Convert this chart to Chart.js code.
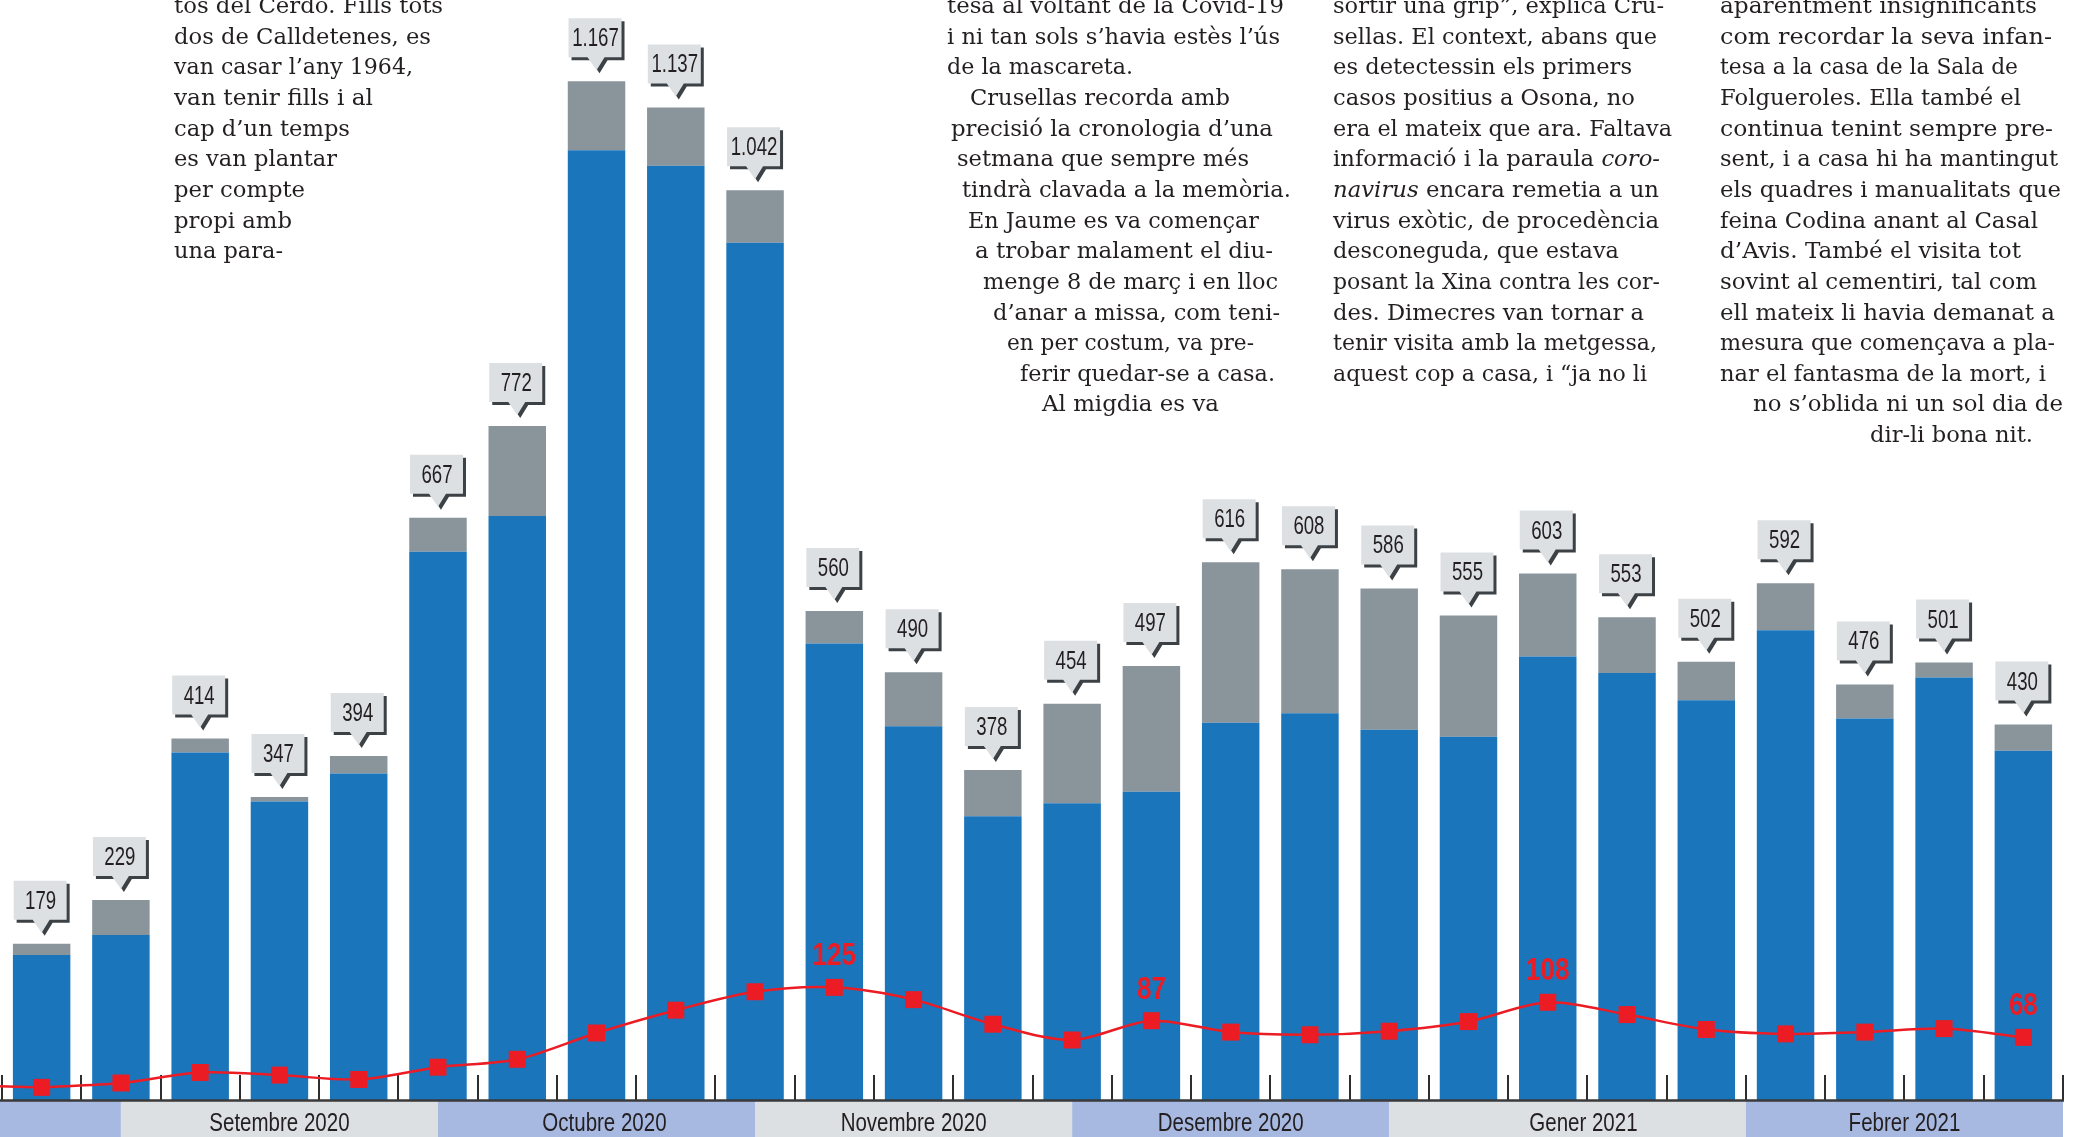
<!DOCTYPE html>
<html>
<head>
<meta charset="utf-8">
<script src="https://cdn.jsdelivr.net/npm/chart.js@4.4.1/dist/chart.umd.min.js"></script>
<style>
  html, body { margin:0; padding:0; background:#fff; overflow:hidden; }
  #wrap { position:relative; width:2074px; height:1137px; }
  #c { position:absolute; left:0; top:0; }
  .tl { position:absolute; white-space:pre; font-family:'DejaVu Serif', 'Liberation Serif', serif;
        font-size:21.5px; line-height:30px; color:#231f20; transform-origin:0 0; }
</style>
</head>
<body>
<div id="wrap"><canvas id="c" width="2074" height="1137"></canvas></div>
<script>
// ---------- DATA ----------
const weeks = ['S1','S2','S3','S4','S5','S6','S7','S8','S9','S10','S11','S12','S13',
               'S14','S15','S16','S17','S18','S19','S20','S21','S22','S23','S24','S25','S26'];
const blueValues = [166,189,398,342,374,628,669,1088,1070,982,523,428,325,340,353,432,443,424,416,508,489,458,538,437,484,400];
const grayValues = [13,40,16,5,20,39,103,79,67,60,37,62,53,114,144,184,165,162,139,95,64,44,54,39,17,30];
const totalLabels = ['179','229','414','347','394','667','772','1.167','1.137','1.042','560','490','378',
                     '454','497','616','608','586','555','603','553','502','592','476','501','430'];
const lineValues = [11,16,28,25,20,34,43,73,99,120,125,111,83,65,87,74,71,75,86,108,94,77,72,74,78,68];
const lineLabelAt = [10,14,19,25];
const monthNames = ['', 'Setembre 2020', 'Octubre 2020', 'Novembre 2020', 'Desembre 2020', 'Gener 2021', 'Febrer 2021'];
const monthBounds = [-0.5, 1, 5, 9, 13, 17, 21.5, 25.5];
const monthLabelPos = [null, 3, 7.1, 11, 15, 19.45, 23.5];

// ---------- BODY TEXT (newspaper columns) ----------
const textLines = [
  [174, 443, 0, 'tos del Cerdo. Fills tots'],
  [174, 431, 1, 'dos de Calldetenes, es'],
  [174, 413, 2, 'van casar l’any 1964,'],
  [174, 373, 3, 'van tenir fills i al'],
  [174, 350, 4, 'cap d’un temps'],
  [174, 337, 5, 'es van plantar'],
  [174, 305, 6, 'per compte'],
  [174, 292, 7, 'propi amb'],
  [174, 283, 8, 'una para-'],

  [947, 1284, 0, 'tesa al voltant de la Covid-19'],
  [947, 1280, 1, 'i ni tan sols s’havia estès l’ús'],
  [947, 1133, 2, 'de la mascareta.'],
  [970, 1230, 3, 'Crusellas recorda amb'],
  [951, 1273, 4, 'precisió la cronologia d’una'],
  [957, 1249, 5, 'setmana que sempre més'],
  [962, 1291, 6, 'tindrà clavada a la memòria.'],
  [968, 1259, 7, 'En Jaume es va començar'],
  [975, 1273, 8, 'a trobar malament el diu-'],
  [983, 1278, 9, 'menge 8 de març i en lloc'],
  [993, 1280, 10, 'd’anar a missa, com teni-'],
  [1007, 1254, 11, 'en per costum, va pre-'],
  [1020, 1275, 12, 'ferir quedar-se a casa.'],
  [1042, 1219, 13, 'Al migdia es va'],

  [1333, 1664, 0, 'sortir una grip”, explica Cru-'],
  [1333, 1657, 1, 'sellas. El context, abans que'],
  [1333, 1632, 2, 'es detectessin els primers'],
  [1333, 1635, 3, 'casos positius a Osona, no'],
  [1333, 1672, 4, 'era el mateix que ara. Faltava'],
  [1333, 1660, 5, 'informació i la paraula <i>coro-</i>'],
  [1333, 1659, 6, '<i>navirus</i> encara remetia a un'],
  [1333, 1659, 7, 'virus exòtic, de procedència'],
  [1333, 1619, 8, 'desconeguda, que estava'],
  [1333, 1660, 9, 'posant la Xina contra les cor-'],
  [1333, 1644, 10, 'des. Dimecres van tornar a'],
  [1333, 1657, 11, 'tenir visita amb la metgessa,'],
  [1333, 1647, 12, 'aquest cop a casa, i “ja no li'],

  [1720, 2037, 0, 'aparentment insignificants'],
  [1720, 2052, 1, 'com recordar la seva infan-'],
  [1720, 2018, 2, 'tesa a la casa de la Sala de'],
  [1720, 2021, 3, 'Folgueroles. Ella també el'],
  [1720, 2053, 4, 'continua tenint sempre pre-'],
  [1720, 2058, 5, 'sent, i a casa hi ha mantingut'],
  [1720, 2061, 6, 'els quadres i manualitats que'],
  [1720, 2038, 7, 'feina Codina anant al Casal'],
  [1720, 2021, 8, 'd’Avis. També el visita tot'],
  [1720, 2037, 9, 'sovint al cementiri, tal com'],
  [1720, 2055, 10, 'ell mateix li havia demanat a'],
  [1720, 2055, 11, 'mesura que començava a pla-'],
  [1720, 2046, 12, 'nar el fantasma de la mort, i'],
  [1753, 2063, 13, 'no s’oblida ni un sol dia de'],
  [1870, 2033, 14, 'dir-li bona nit.']
];
const BASE0 = 13, LINE_STEP = 30.65;
const wrap = document.getElementById('wrap');
textLines.forEach(([l, r, row, html]) => {
  const d = document.createElement('div');
  d.className = 'tl';
  d.innerHTML = html + '<span class="bm" style="display:inline-block;width:0;height:0;vertical-align:baseline"></span>';
  d.style.left = l + 'px';
  d.style.top = '0px';
  wrap.appendChild(d);
  const dr = d.getBoundingClientRect();
  const bm = d.querySelector('.bm').getBoundingClientRect();
  const baseOff = bm.top - dr.top;
  d.style.top = (BASE0 + row * LINE_STEP - baseOff) + 'px';
  d.style.transform = 'scaleX(' + ((r - l) / dr.width) + ')';
});

// ---------- CHART ----------
const COL_BLUE = '#1b75bb', COL_GRAY = '#8a959b', COL_RED = '#ec1c24';
const BAND_A = '#a8b9e1', BAND_B = '#dce0e3', INK = '#231f20';
const SANS = "'Liberation Sans', Arial, 'DejaVu Sans', sans-serif";

function condensedText(ctx, txt, x, y, font, sx, color) {
  ctx.save();
  ctx.font = font;
  ctx.fillStyle = color;
  ctx.textAlign = 'center';
  ctx.textBaseline = 'alphabetic';
  ctx.translate(x, y);
  ctx.scale(sx, 1);
  ctx.fillText(txt, 0, 0);
  ctx.restore();
}

function bubble(ctx, cx, tipY, text) {
  const w = 53, h = 39, ph = 13, pl = 9, pr = 8, sh = 3;
  const left = cx - 28, bottom = tipY - ph, top = bottom - h;
  const path = (dx, dy) => {
    ctx.beginPath();
    ctx.moveTo(left + dx, top + dy);
    ctx.lineTo(left + w + dx, top + dy);
    ctx.lineTo(left + w + dx, bottom + dy);
    ctx.lineTo(cx + pr + dx, bottom + dy);
    ctx.lineTo(cx + dx, tipY + dy);
    ctx.lineTo(cx - pl + dx, bottom + dy);
    ctx.lineTo(left + dx, bottom + dy);
    ctx.closePath();
  };
  ctx.save();
  ctx.fillStyle = '#3c4145';
  path(sh, sh); ctx.fill();
  ctx.fillStyle = '#dde0e3';
  path(0, 0); ctx.fill();
  ctx.restore();
  condensedText(ctx, text, cx - 1, top + 28, '25.5px ' + SANS, 0.73, INK);
}

const decor = {
  id: 'decor',
  beforeDatasetsDraw(chart) {
    const { ctx, chartArea: a, scales: { x } } = chart;
    ctx.save();
    for (let m = 0; m < monthNames.length; m++) {
      const x0 = m === 0 ? 0 : x.getPixelForValue(monthBounds[m]);
      const x1 = x.getPixelForValue(monthBounds[m + 1]);
      ctx.fillStyle = (m % 2 === 0) ? BAND_A : BAND_B;
      ctx.fillRect(x0, a.bottom + 1, x1 - x0, chart.height - a.bottom);
    }
    for (let m = 0; m < monthNames.length; m++) {
      if (monthNames[m]) {
        condensedText(ctx, monthNames[m], x.getPixelForValue(monthLabelPos[m]), a.bottom + 31, '25px ' + SANS, 0.82, INK);
      }
    }
    ctx.strokeStyle = '#2e2e2e';
    ctx.lineWidth = 2;
    for (let i = -0.5; i <= weeks.length - 0.5; i += 1) {
      const px = Math.round(x.getPixelForValue(i));
      ctx.beginPath();
      ctx.moveTo(px, a.bottom - 25);
      ctx.lineTo(px, a.bottom);
      ctx.stroke();
    }
    ctx.restore();
  },
  afterDatasetsDraw(chart) {
    const { ctx, chartArea: a } = chart;
    ctx.save();
    ctx.strokeStyle = '#3a3a3a';
    ctx.lineWidth = 2.5;
    ctx.beginPath();
    ctx.moveTo(0, a.bottom + 0.5);
    ctx.lineTo(a.right + 1, a.bottom + 0.5);
    ctx.stroke();
    const lm = chart.getDatasetMeta(2).data;
    ctx.strokeStyle = COL_RED;
    ctx.lineWidth = 2.5;
    ctx.beginPath();
    ctx.moveTo(0, lm[0].y - 1);
    ctx.lineTo(lm[0].x - 8, lm[0].y);
    ctx.stroke();
    const top = chart.getDatasetMeta(1).data;
    top.forEach((el, i) => bubble(ctx, el.x, el.y - 11, totalLabels[i]));
    lineLabelAt.forEach(i => {
      condensedText(ctx, String(lineValues[i]), lm[i].x, lm[i].y - 22, 'bold 31px ' + SANS, 0.84, COL_RED);
    });
    ctx.restore();
  }
};

new Chart(document.getElementById('c'), {
  type: 'bar',
  data: {
    labels: weeks,
    datasets: [
      { label: 'A', data: blueValues, backgroundColor: COL_BLUE, stack: 's', order: 2,
        barPercentage: 0.725, categoryPercentage: 1.0, borderWidth: 0 },
      { label: 'B', data: grayValues, backgroundColor: COL_GRAY, stack: 's', order: 2,
        barPercentage: 0.725, categoryPercentage: 1.0, borderWidth: 0 },
      { type: 'line', label: 'C', data: lineValues, yAxisID: 'y2', order: 0,
        borderColor: COL_RED, borderWidth: 2.5, tension: 0.3, fill: false,
        pointStyle: 'rect', pointRadius: 12, pointHoverRadius: 12,
        pointBackgroundColor: COL_RED, pointBorderWidth: 0, clip: false }
    ]
  },
  options: {
    responsive: false,
    devicePixelRatio: 1,
    animation: false,
    events: [],
    layout: { autoPadding: false, padding: { left: 2, right: 11, top: 0, bottom: 37 } },
    plugins: { legend: { display: false }, tooltip: { enabled: false } },
    scales: {
      x: { display: false, stacked: true, offset: true },
      y: { display: false, stacked: true, min: 0, max: 1260 },
      y2: { display: false, min: -3.4, max: 1250.6 }
    }
  },
  plugins: [decor]
});
</script>
</body>
</html>
